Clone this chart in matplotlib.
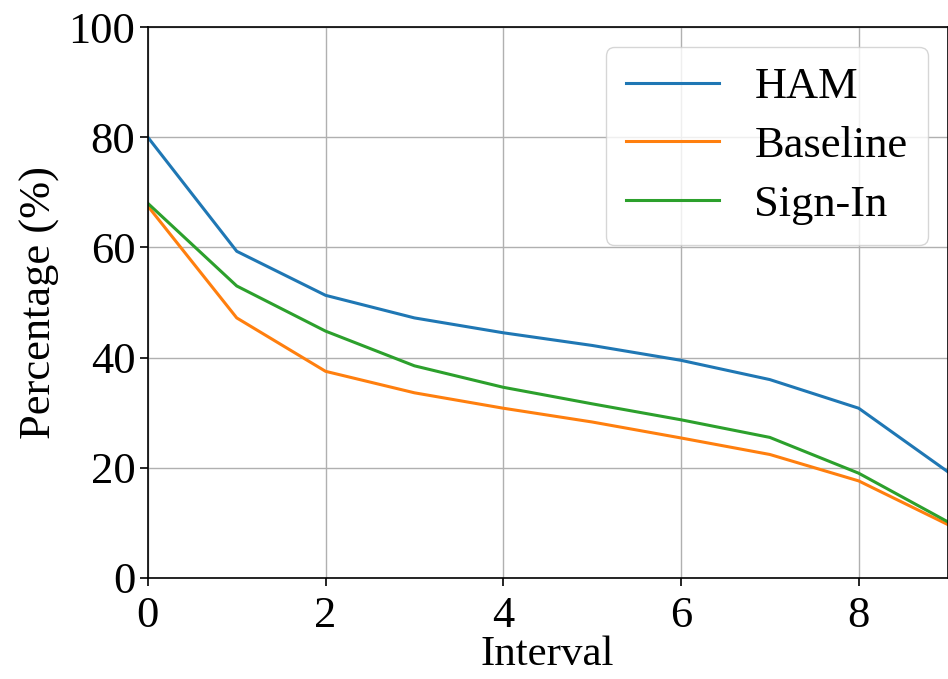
import matplotlib.pyplot as plt
import numpy as np

# values
intervals = np.arange(10)
ham = [80.0, 59.3, 51.3, 47.2, 44.5, 42.2, 39.5, 36.0, 30.8, 19.3]
baseline = [67.5, 47.2, 37.5, 33.6, 30.8, 28.3, 25.4, 22.4, 17.6, 9.7]
sign_in = [68.0, 53.0, 44.8, 38.5, 34.6, 31.6, 28.7, 25.5, 19.0, 10.2]

plt.rcParams['font.family'] = ['Liberation Serif', 'DejaVu Serif']

fig = plt.figure(figsize=(9.48, 6.79), dpi=100)
ax = fig.add_axes([0.156, 0.149, 0.8435, 0.811])

ax.plot(intervals, ham, color="tab:blue", lw=2.2, label="HAM")
ax.plot(intervals, baseline, color="tab:orange", lw=2.2, label="Baseline")
ax.plot(intervals, sign_in, color="tab:green", lw=2.2, label="Sign-In")

ax.set_xlim(0, 9)
ax.set_ylim(0, 100)
ax.set_xticks([0, 2, 4, 6, 8])
ax.set_yticks([0, 20, 40, 60, 80, 100])
ax.tick_params(labelsize=32, length=6, width=1.2, pad=3)
ax.tick_params(axis="x", pad=7)
ax.grid(True, color="#b0b0b0", lw=1.0)
for s in ax.spines.values():
    s.set_linewidth(1.2)

ax.set_xlabel("Interval", fontsize=31, labelpad=0)
ax.set_ylabel("Percentage (%)", fontsize=32, labelpad=6)

ax.legend(loc="upper right", fontsize=32, handlelength=2.1,
          borderaxespad=0.45, labelspacing=0.42, handletextpad=0.8,
          borderpad=0.45)

fig.savefig("out.png", dpi=100)
